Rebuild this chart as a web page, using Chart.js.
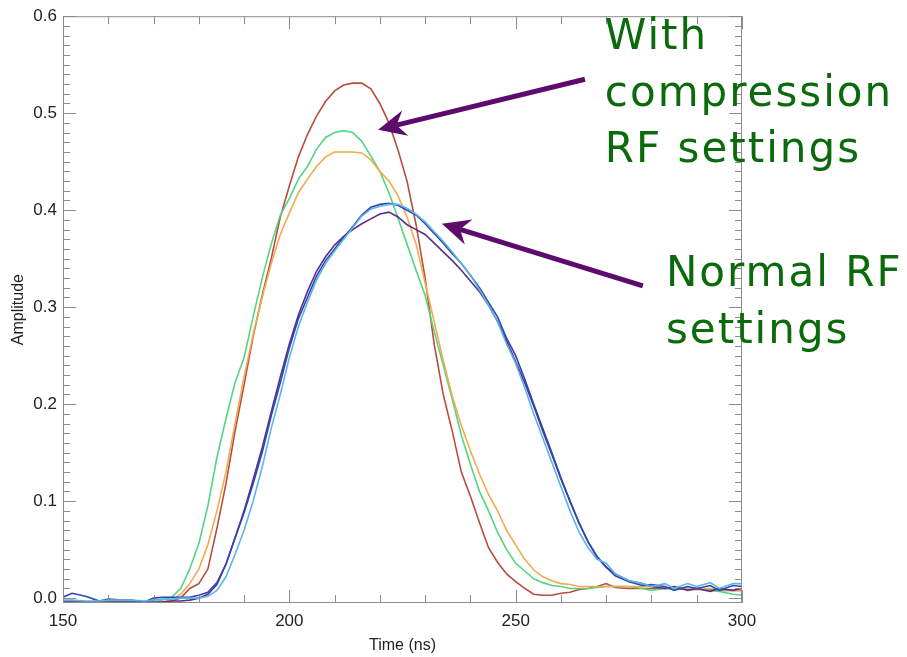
<!DOCTYPE html>
<html>
<head>
<meta charset="utf-8">
<script src="https://cdn.jsdelivr.net/npm/chart.js@4.4.1/dist/chart.umd.min.js"></script>
<style>
  html, body { margin: 0; padding: 0; background: #fff; }
  #wrap { width: 907px; height: 657px; }
</style>
</head>
<body>
<div id="wrap"><canvas id="pulseChart"></canvas></div>
<script>
// time axis (ns), shared by all the traces
const timeNs = [150, 152, 155, 158, 160, 163, 165, 168, 170, 172, 174, 176, 178, 180, 182, 184, 186, 188, 190, 192,
    194, 196, 198, 200, 202, 204, 206, 208, 210, 212, 214, 216, 218, 220, 222, 224, 226, 228, 230, 232,
    234, 236, 238, 240, 242, 244, 246, 248, 250, 252, 254, 256, 258, 260, 262, 264, 266, 268, 270, 272,
    275, 278, 280, 283, 285, 288, 290, 293, 295, 298, 300];

// compression RF settings
const redTrace = [-0.004, -0.004, -0.004, -0.004, -0.004, -0.004, -0.004, -0.004, -0.004, -0.004, -0.003, 0.0, 0.01, 0.015, 0.03, 0.072, 0.118, 0.172, 0.22, 0.27,
    0.312, 0.35, 0.393, 0.425, 0.455, 0.478, 0.497, 0.512, 0.523, 0.529, 0.531, 0.531, 0.525, 0.51, 0.49, 0.462, 0.43, 0.385, 0.33, 0.262,
    0.21, 0.172, 0.13, 0.105, 0.078, 0.052, 0.037, 0.025, 0.017, 0.01, 0.004, 0.003, 0.003, 0.005, 0.006, 0.009, 0.01, 0.012, 0.015, 0.011,
    0.01, 0.01, 0.01, 0.01, 0.01, 0.009, 0.009, 0.009, 0.008, 0.008, 0.008];
const greenTrace = [-0.004, -0.004, -0.004, -0.004, -0.004, -0.004, -0.004, -0.004, -0.004, -0.002, 0.001, 0.01, 0.03, 0.056, 0.095, 0.145, 0.185, 0.222, 0.248, 0.29,
    0.33, 0.365, 0.395, 0.412, 0.432, 0.445, 0.463, 0.475, 0.48, 0.482, 0.48, 0.471, 0.456, 0.44, 0.418, 0.392, 0.365, 0.338, 0.312, 0.275,
    0.24, 0.205, 0.168, 0.138, 0.11, 0.09, 0.068, 0.05, 0.036, 0.028, 0.02, 0.016, 0.013, 0.012, 0.01, 0.01, 0.01, 0.011, 0.012, 0.012,
    0.012, 0.01, 0.008, 0.01, 0.01, 0.01, 0.01, 0.008, 0.007, 0.004, 0.003];
const orangeTrace = [-0.004, -0.004, -0.004, -0.004, -0.004, -0.004, -0.004, -0.004, -0.004, -0.004, -0.002, 0.004, 0.015, 0.03, 0.055, 0.09, 0.13, 0.18, 0.228, 0.272,
    0.31, 0.345, 0.375, 0.397, 0.418, 0.432, 0.445, 0.455, 0.46, 0.46, 0.46, 0.459, 0.452, 0.44, 0.43, 0.415, 0.393, 0.365, 0.325, 0.285,
    0.245, 0.208, 0.178, 0.152, 0.128, 0.107, 0.09, 0.07, 0.055, 0.04, 0.029, 0.022, 0.018, 0.015, 0.014, 0.012, 0.012, 0.012, 0.012, 0.012,
    0.012, 0.012, 0.012, 0.011, 0.011, 0.01, 0.01, 0.01, 0.009, 0.008, 0.008];

// normal RF settings
const blueTrace = [0.001, 0.005, 0.002, -0.003, -0.001, -0.002, -0.002, -0.004, 0.0, 0.001, 0.001, 0.001, 0.001, 0.003, 0.006, 0.016, 0.035, 0.062, 0.088, 0.118,
    0.15, 0.188, 0.222, 0.258, 0.288, 0.31, 0.332, 0.348, 0.36, 0.372, 0.383, 0.395, 0.403, 0.406, 0.407, 0.405, 0.4, 0.395, 0.386, 0.376,
    0.366, 0.355, 0.345, 0.333, 0.32, 0.305, 0.29, 0.268, 0.25, 0.226, 0.2, 0.175, 0.15, 0.124, 0.1, 0.077, 0.058, 0.043, 0.032, 0.023,
    0.017, 0.013, 0.014, 0.012, 0.008, 0.012, 0.01, 0.013, 0.008, 0.013, 0.012];
const cyanTrace = [-0.002, -0.002, -0.003, -0.003, -0.002, -0.002, -0.002, -0.003, -0.002, -0.001, -0.001, 0.0, 0.0, 0.0, 0.002, 0.008, 0.022, 0.045, 0.07, 0.1,
    0.135, 0.175, 0.21, 0.248, 0.28, 0.305, 0.328, 0.345, 0.358, 0.37, 0.382, 0.394, 0.401, 0.404, 0.406, 0.406, 0.402, 0.396, 0.388, 0.378,
    0.368, 0.357, 0.345, 0.333, 0.318, 0.302, 0.285, 0.262, 0.242, 0.217, 0.19, 0.165, 0.14, 0.115, 0.09, 0.068, 0.052, 0.04, 0.036, 0.025,
    0.018, 0.015, 0.012, 0.015, 0.01, 0.015, 0.012, 0.016, 0.01, 0.015, 0.015];
const purpleTrace = [-0.004, -0.004, -0.004, -0.004, -0.004, -0.004, -0.004, -0.004, -0.004, -0.004, -0.003, -0.003, -0.002, 0.0, 0.004, 0.014, 0.035, 0.062, 0.09, 0.122,
    0.155, 0.192, 0.228, 0.262, 0.292, 0.316, 0.337, 0.352, 0.364, 0.373, 0.38, 0.386, 0.391, 0.396, 0.398, 0.393, 0.385, 0.38, 0.375, 0.366,
    0.357, 0.348, 0.338, 0.327, 0.316, 0.302, 0.285, 0.265, 0.244, 0.222, 0.198, 0.172, 0.148, 0.123, 0.1, 0.078, 0.058, 0.042, 0.032, 0.025,
    0.018, 0.015, 0.012, 0.01, 0.012, 0.008, 0.01, 0.007, 0.01, 0.008, 0.01];

// tick labels
const xTickValues = [150, 200, 250, 300];
const yTickValues = [0.0, 0.1, 0.2, 0.3, 0.4, 0.5, 0.6];

// annotation text and arrows, anchored in data units (time, amplitude)
const noteCompression = ["With", "compression", "RF settings"];
const noteNormal = ["Normal RF", "settings"];
const arrowCompression = [[265.3, 0.535], [219.6, 0.483]];
const arrowNormal = [[278.1, 0.322], [233.7, 0.386]];

function toPoints(values) {
    return values.map((v, i) => ({x: timeNs[i], y: v}));
}

function trace(label, values, color) {
    return {
        label: label,
        data: toPoints(values),
        borderColor: color,
        borderWidth: 1.6,
        pointRadius: 0,
        tension: 0,
        fill: false,
    };
}

// draws the idl-like frame (inward ticks on all 4 sides), the arrows and the green notes
const framePlugin = {
    id: "framePlugin",
    afterDraw(chart) {
        const {ctx, chartArea: a, scales: {x, y}} = chart;
        ctx.save();
        ctx.strokeStyle = "#8c8c8c";
        ctx.lineWidth = 1;
        ctx.strokeRect(a.left + 0.5, a.top + 0.5, a.right - a.left - 1, a.bottom - a.top - 1);

        ctx.beginPath();
        for (let t = 150; t <= 300; t += 10) {
            const px = Math.round(x.getPixelForValue(t)) + 0.5;
            const len = t % 50 === 0 ? 13 : 8;
            ctx.moveTo(px, a.bottom);
            ctx.lineTo(px, a.bottom - len);
            ctx.moveTo(px, a.top);
            ctx.lineTo(px, a.top + len);
        }
        for (let i = 0; i <= 60; i++) {
            const py = Math.round(y.getPixelForValue(i / 100)) + 0.5;
            const len = i % 10 === 0 ? 13 : 7;
            ctx.moveTo(a.left, py);
            ctx.lineTo(a.left + len, py);
            ctx.moveTo(a.right, py);
            ctx.lineTo(a.right - len, py);
        }
        ctx.stroke();

        drawArrow(ctx, x, y, arrowCompression);
        drawArrow(ctx, x, y, arrowNormal);

        ctx.fillStyle = "#0b6a0b";
        ctx.font = "42px 'DejaVu Sans'";
        ctx.letterSpacing = "2px";
        ctx.textBaseline = "alphabetic";
        ctx.textAlign = "left";
        drawNote(ctx, x.getPixelForValue(269.7), y.getPixelForValue(0.566), noteCompression);
        drawNote(ctx, x.getPixelForValue(283.2), y.getPixelForValue(0.3216), noteNormal);
        ctx.restore();
    }
};

function drawNote(ctx, px, py, lines) {
    lines.forEach((line, i) => ctx.fillText(line, px, py + i * 56.5));
}

function drawArrow(ctx, x, y, arrow) {
    const x0 = x.getPixelForValue(arrow[0][0]), y0 = y.getPixelForValue(arrow[0][1]);
    const x1 = x.getPixelForValue(arrow[1][0]), y1 = y.getPixelForValue(arrow[1][1]);
    const len = Math.hypot(x1 - x0, y1 - y0);
    const dx = (x1 - x0) / len, dy = (y1 - y0) / len;
    const nx = -dy, ny = dx;
    const headLen = 28, headHalf = 13, notch = 9;

    ctx.strokeStyle = "#5e0b6e";
    ctx.fillStyle = "#5e0b6e";
    ctx.lineWidth = 5;
    ctx.lineCap = "butt";
    ctx.beginPath();
    ctx.moveTo(x0, y0);
    ctx.lineTo(x1 - dx * (headLen - notch), y1 - dy * (headLen - notch));
    ctx.stroke();

    ctx.beginPath();
    ctx.moveTo(x1, y1);
    ctx.lineTo(x1 - dx * headLen + nx * headHalf, y1 - dy * headLen + ny * headHalf);
    ctx.lineTo(x1 - dx * (headLen - notch), y1 - dy * (headLen - notch));
    ctx.lineTo(x1 - dx * headLen - nx * headHalf, y1 - dy * headLen - ny * headHalf);
    ctx.closePath();
    ctx.fill();
}

const axisFont = {family: "'Liberation Sans', Arial, sans-serif", size: 17};

new Chart(document.getElementById("pulseChart"), {
    type: "line",
    data: {
        datasets: [
            trace("cyan", cyanTrace, "#5ab6e6"),
            trace("blue", blueTrace, "#2f45b4"),
            trace("purple", purpleTrace, "#5a2f86"),
            trace("orange", orangeTrace, "#eeac4c"),
            trace("green", greenTrace, "#55d483"),
            trace("red", redTrace, "#bb4a40"),
        ]
    },
    options: {
        responsive: true,
        maintainAspectRatio: false,
        animation: false,
        events: [],
        layout: {padding: {top: 14, right: 165, bottom: 0, left: 0}},
        plugins: {
            legend: {display: false},
            tooltip: {enabled: false},
        },
        scales: {
            x: {
                type: "linear",
                min: 150,
                max: 300,
                afterFit: (s) => { s.height = 54; },
                afterBuildTicks: (s) => { s.ticks = xTickValues.map(v => ({value: v})); },
                grid: {display: false, drawTicks: false},
                border: {display: false},
                ticks: {color: "#222", font: axisFont, padding: 8, maxRotation: 0},
                title: {display: true, text: "Time (ns)", color: "#222",
                    font: {family: "'Liberation Sans', Arial, sans-serif", size: 16},
                    padding: {top: 0, bottom: 2}},
            },
            y: {
                min: -0.005,
                max: 0.6,
                afterFit: (s) => { s.width = 63; },
                afterBuildTicks: (s) => { s.ticks = yTickValues.map(v => ({value: v})); },
                grid: {display: false, drawTicks: false},
                border: {display: false},
                ticks: {color: "#222", font: axisFont, padding: 6,
                    callback: (v) => Number(v).toFixed(1)},
                title: {display: true, text: "Amplitude", color: "#222",
                    font: {family: "'Liberation Sans', Arial, sans-serif", size: 16},
                    padding: {top: 9, bottom: 0}},
            }
        }
    },
    plugins: [framePlugin]
});
</script>
</body>
</html>
